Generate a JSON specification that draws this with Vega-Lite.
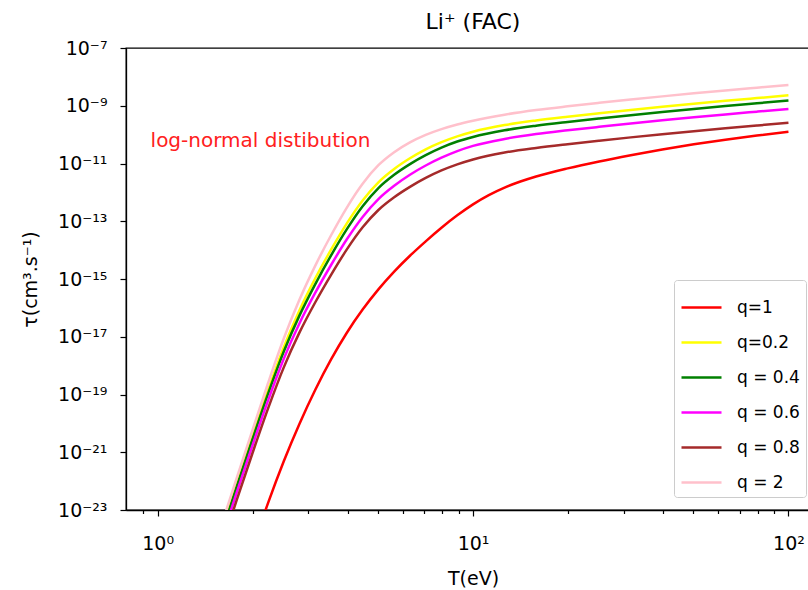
{
  "$schema": "https://vega.github.io/schema/vega-lite/v6.json",
  "width": 694,
  "height": 462,
  "autosize": {"type": "none"},
  "padding": {"left": 126, "top": 48, "right": 0, "bottom": 80},
  "background": "white",
  "title": {"text": "Li⁺ (FAC)", "font": "DejaVu Sans", "fontSize": 22, "fontWeight": "normal", "offset": 5, "anchor": "middle", "color": "black"},
  "config": {
    "view": {"stroke": "black", "strokeWidth": 1.3},
    "axis": {"domainColor": "black", "tickColor": "black", "labelColor": "black", "titleColor": "black", "labelFont": "DejaVu Sans", "titleFont": "DejaVu Sans", "labelFontSize": 19, "titleFontSize": 19, "titleFontWeight": "normal", "grid": false, "domainWidth": 1.3, "tickWidth": 1.2}
  },
  "layer": [
    {
      "data": {"values": [
        {"q":"q=1","T":1.995,"tau":4.37e-25},{"q":"q=1","T":2.239,"tau":1.738e-23},{"q":"q=1","T":2.512,"tau":4.9e-22},{"q":"q=1","T":2.818,"tau":9.77e-21},{"q":"q=1","T":3.162,"tau":1.462e-19},{"q":"q=1","T":3.548,"tau":1.641e-18},{"q":"q=1","T":3.981,"tau":1.38e-17},{"q":"q=1","T":4.467,"tau":8.71e-17},{"q":"q=1","T":5.012,"tau":4.365e-16},{"q":"q=1","T":5.623,"tau":1.8e-15},{"q":"q=1","T":6.31,"tau":6.383e-15},{"q":"q=1","T":7.079,"tau":2.018e-14},{"q":"q=1","T":7.943,"tau":5.957e-14},{"q":"q=1","T":8.913,"tau":1.603e-13},{"q":"q=1","T":10,"tau":3.846e-13},{"q":"q=1","T":11.22,"tau":8.035e-13},{"q":"q=1","T":12.59,"tau":1.462e-12},{"q":"q=1","T":14.13,"tau":2.371e-12},{"q":"q=1","T":15.85,"tau":3.548e-12},{"q":"q=1","T":19.95,"tau":6.761e-12},{"q":"q=1","T":25.12,"tau":1.175e-11},{"q":"q=1","T":31.62,"tau":1.928e-11},{"q":"q=1","T":39.81,"tau":3.055e-11},{"q":"q=1","T":50.12,"tau":4.624e-11},{"q":"q=1","T":63.1,"tau":6.683e-11},{"q":"q=1","T":79.43,"tau":9.333e-11},{"q":"q=1","T":100,"tau":1.259e-10},

        {"q":"q=0.2","T":1.585,"tau":1.585e-24},{"q":"q=0.2","T":1.778,"tau":7.499e-23},{"q":"q=0.2","T":1.995,"tau":3.388e-21},{"q":"q=0.2","T":2.239,"tau":1.38e-19},{"q":"q=0.2","T":2.512,"tau":4.365e-18},{"q":"q=0.2","T":2.818,"tau":8.318e-17},{"q":"q=0.2","T":3.162,"tau":1.059e-15},{"q":"q=0.2","T":3.548,"tau":1.035e-14},{"q":"q=0.2","T":3.981,"tau":8.414e-14},{"q":"q=0.2","T":4.467,"tau":5.248e-13},{"q":"q=0.2","T":5.012,"tau":2.239e-12},{"q":"q=0.2","T":5.623,"tau":6.457e-12},{"q":"q=0.2","T":6.31,"tau":1.514e-11},{"q":"q=0.2","T":7.079,"tau":3.09e-11},{"q":"q=0.2","T":7.943,"tau":5.495e-11},{"q":"q=0.2","T":8.913,"tau":8.71e-11},{"q":"q=0.2","T":10,"tau":1.259e-10},{"q":"q=0.2","T":12.59,"tau":2.138e-10},{"q":"q=0.2","T":15.85,"tau":3.09e-10},{"q":"q=0.2","T":19.95,"tau":4.169e-10},{"q":"q=0.2","T":25.12,"tau":5.495e-10},{"q":"q=0.2","T":31.62,"tau":7.161e-10},{"q":"q=0.2","T":39.81,"tau":9.226e-10},{"q":"q=0.2","T":50.12,"tau":1.175e-9},{"q":"q=0.2","T":63.1,"tau":1.479e-9},{"q":"q=0.2","T":79.43,"tau":1.841e-9},{"q":"q=0.2","T":100,"tau":2.291e-9},

        {"q":"q = 0.4","T":1.585,"tau":1.259e-24},{"q":"q = 0.4","T":1.778,"tau":5.957e-23},{"q":"q = 0.4","T":1.995,"tau":2.63e-21},{"q":"q = 0.4","T":2.239,"tau":1.047e-19},{"q":"q = 0.4","T":2.512,"tau":3.09e-18},{"q":"q = 0.4","T":2.818,"tau":5.495e-17},{"q":"q = 0.4","T":3.162,"tau":6.683e-16},{"q":"q = 0.4","T":3.548,"tau":6.531e-15},{"q":"q = 0.4","T":3.981,"tau":5.309e-14},{"q":"q = 0.4","T":4.467,"tau":3.311e-13},{"q":"q = 0.4","T":5.012,"tau":1.413e-12},{"q":"q = 0.4","T":5.623,"tau":4.074e-12},{"q":"q = 0.4","T":6.31,"tau":9.55e-12},{"q":"q = 0.4","T":7.079,"tau":1.95e-11},{"q":"q = 0.4","T":7.943,"tau":3.548e-11},{"q":"q = 0.4","T":8.913,"tau":5.754e-11},{"q":"q = 0.4","T":10,"tau":8.318e-11},{"q":"q = 0.4","T":12.59,"tau":1.413e-10},{"q":"q = 0.4","T":15.85,"tau":2.042e-10},{"q":"q = 0.4","T":19.95,"tau":2.754e-10},{"q":"q = 0.4","T":25.12,"tau":3.631e-10},{"q":"q = 0.4","T":31.62,"tau":4.732e-10},{"q":"q = 0.4","T":39.81,"tau":6.095e-10},{"q":"q = 0.4","T":50.12,"tau":7.762e-10},{"q":"q = 0.4","T":63.1,"tau":9.772e-10},{"q":"q = 0.4","T":79.43,"tau":1.216e-9},{"q":"q = 0.4","T":100,"tau":1.514e-9},

        {"q":"q = 0.6","T":1.585,"tau":7.943e-25},{"q":"q = 0.6","T":1.778,"tau":3.758e-23},{"q":"q = 0.6","T":1.995,"tau":1.622e-21},{"q":"q = 0.6","T":2.239,"tau":6.166e-20},{"q":"q = 0.6","T":2.512,"tau":1.738e-18},{"q":"q = 0.6","T":2.818,"tau":2.951e-17},{"q":"q = 0.6","T":3.162,"tau":3.35e-16},{"q":"q = 0.6","T":3.548,"tau":3.055e-15},{"q":"q = 0.6","T":3.981,"tau":2.371e-14},{"q":"q = 0.6","T":4.467,"tau":1.413e-13},{"q":"q = 0.6","T":5.012,"tau":5.888e-13},{"q":"q = 0.6","T":5.623,"tau":1.698e-12},{"q":"q = 0.6","T":6.31,"tau":4.074e-12},{"q":"q = 0.6","T":7.079,"tau":8.511e-12},{"q":"q = 0.6","T":7.943,"tau":1.585e-11},{"q":"q = 0.6","T":8.913,"tau":2.692e-11},{"q":"q = 0.6","T":10,"tau":4.074e-11},{"q":"q = 0.6","T":12.59,"tau":7.079e-11},{"q":"q = 0.6","T":15.85,"tau":1.047e-10},{"q":"q = 0.6","T":19.95,"tau":1.413e-10},{"q":"q = 0.6","T":25.12,"tau":1.862e-10},{"q":"q = 0.6","T":31.62,"tau":2.427e-10},{"q":"q = 0.6","T":39.81,"tau":3.126e-10},{"q":"q = 0.6","T":50.12,"tau":3.981e-10},{"q":"q = 0.6","T":63.1,"tau":5.012e-10},{"q":"q = 0.6","T":79.43,"tau":6.237e-10},{"q":"q = 0.6","T":100,"tau":7.762e-10},

        {"q":"q = 0.8","T":1.585,"tau":4.467e-25},{"q":"q = 0.8","T":1.778,"tau":2.065e-23},{"q":"q = 0.8","T":1.995,"tau":8.71e-22},{"q":"q = 0.8","T":2.239,"tau":3.236e-20},{"q":"q = 0.8","T":2.512,"tau":8.71e-19},{"q":"q = 0.8","T":2.818,"tau":1.413e-17},{"q":"q = 0.8","T":3.162,"tau":1.567e-16},{"q":"q = 0.8","T":3.548,"tau":1.396e-15},{"q":"q = 0.8","T":3.981,"tau":1.059e-14},{"q":"q = 0.8","T":4.467,"tau":6.166e-14},{"q":"q = 0.8","T":5.012,"tau":2.455e-13},{"q":"q = 0.8","T":5.623,"tau":6.761e-13},{"q":"q = 0.8","T":6.31,"tau":1.549e-12},{"q":"q = 0.8","T":7.079,"tau":3.162e-12},{"q":"q = 0.8","T":7.943,"tau":5.754e-12},{"q":"q = 0.8","T":8.913,"tau":9.333e-12},{"q":"q = 0.8","T":10,"tau":1.38e-11},{"q":"q = 0.8","T":12.59,"tau":2.399e-11},{"q":"q = 0.8","T":15.85,"tau":3.467e-11},{"q":"q = 0.8","T":19.95,"tau":4.677e-11},{"q":"q = 0.8","T":25.12,"tau":6.166e-11},{"q":"q = 0.8","T":31.62,"tau":8.035e-11},{"q":"q = 0.8","T":39.81,"tau":1.035e-10},{"q":"q = 0.8","T":50.12,"tau":1.318e-10},{"q":"q = 0.8","T":63.1,"tau":1.66e-10},{"q":"q = 0.8","T":79.43,"tau":2.065e-10},{"q":"q = 0.8","T":100,"tau":2.57e-10},

        {"q":"q = 2","T":1.585,"tau":2.512e-24},{"q":"q = 2","T":1.778,"tau":1.189e-22},{"q":"q = 2","T":1.995,"tau":5.495e-21},{"q":"q = 2","T":2.239,"tau":2.455e-19},{"q":"q = 2","T":2.512,"tau":8.71e-18},{"q":"q = 2","T":2.818,"tau":1.95e-16},{"q":"q = 2","T":3.162,"tau":2.917e-15},{"q":"q = 2","T":3.548,"tau":3.273e-14},{"q":"q = 2","T":3.981,"tau":2.985e-13},{"q":"q = 2","T":4.467,"tau":1.995e-12},{"q":"q = 2","T":5.012,"tau":8.71e-12},{"q":"q = 2","T":5.623,"tau":2.455e-11},{"q":"q = 2","T":6.31,"tau":5.37e-11},{"q":"q = 2","T":7.079,"tau":9.772e-11},{"q":"q = 2","T":7.943,"tau":1.549e-10},{"q":"q = 2","T":8.913,"tau":2.239e-10},{"q":"q = 2","T":10,"tau":3.02e-10},{"q":"q = 2","T":12.59,"tau":4.898e-10},{"q":"q = 2","T":15.85,"tau":7.079e-10},{"q":"q = 2","T":19.95,"tau":9.55e-10},{"q":"q = 2","T":25.12,"tau":1.259e-9},{"q":"q = 2","T":31.62,"tau":1.641e-9},{"q":"q = 2","T":39.81,"tau":2.113e-9},{"q":"q = 2","T":50.12,"tau":2.692e-9},{"q":"q = 2","T":63.1,"tau":3.388e-9},{"q":"q = 2","T":79.43,"tau":4.217e-9},{"q":"q = 2","T":100,"tau":5.248e-9}
      ]},
      "mark": {"type": "line", "clip": true, "strokeWidth": 2.5, "interpolate": "monotone"},
      "encoding": {
        "x": {"field": "T", "type": "quantitative",
          "scale": {"type": "log", "domain": [0.794, 125.9], "nice": false},
          "axis": {"title": "T(eV)", "values": [0.9,1,2,3,4,5,6,7,8,9,10,20,30,40,50,60,70,80,90,100],
            "labelExpr": "datum.value == 1 ? '10⁰' : datum.value == 10 ? '10¹' : datum.value == 100 ? '10²' : ''",
            "tickSize": {"condition": {"test": "datum.value == 1 || datum.value == 10 || datum.value == 100", "value": 6}, "value": 3.5},
            "labelOverlap": false, "labelFlush": false, "labelPadding": 18, "titlePadding": 16}},
        "y": {"field": "tau", "type": "quantitative",
          "scale": {"type": "log", "domain": [1e-23, 1e-7], "nice": false},
          "axis": {"title": "τ(cm³.s⁻¹)", "values": [1e-23,1e-21,1e-19,1e-17,1e-15,1e-13,1e-11,1e-9,1e-7],
            "labelExpr": "'10⁻' + (abs(round(log(datum.value)/LN10)) >= 10 ? substring('⁰¹²³⁴⁵⁶⁷⁸⁹', floor(abs(round(log(datum.value)/LN10))/10), floor(abs(round(log(datum.value)/LN10))/10)+1) : '') + substring('⁰¹²³⁴⁵⁶⁷⁸⁹', abs(round(log(datum.value)/LN10)) % 10, abs(round(log(datum.value)/LN10)) % 10 + 1)",
            "tickSize": 6, "labelOverlap": false, "labelFlush": false, "labelPadding": 13, "titlePadding": 17}},
        "color": {"field": "q", "type": "nominal",
          "scale": {"domain": ["q=1","q=0.2","q = 0.4","q = 0.6","q = 0.8","q = 2"], "range": ["#ff0000","#ffff00","#008000","#ff00ff","#a52a2a","#ffc0cb"]},
          "legend": {"title": null, "orient": "none", "legendX": 548, "legendY": 232, "symbolType": "stroke", "symbolSize": 1600, "symbolStrokeWidth": 2.5, "labelFont": "DejaVu Sans", "labelFontSize": 17, "labelColor": "black", "labelOffset": 14, "rowPadding": 5, "padding": 6, "strokeColor": "#cccccc", "fillColor": "white", "cornerRadius": 3}}
      }
    },
    {
      "data": {"values": [{"T": 0.95, "tau": 6e-11, "label": "log-normal distibution"}]},
      "mark": {"type": "text", "align": "left", "baseline": "middle", "color": "#ff2020", "fontSize": 20, "font": "DejaVu Sans"},
      "encoding": {
        "x": {"field": "T", "type": "quantitative", "title": "T(eV)"},
        "y": {"field": "tau", "type": "quantitative", "title": "τ(cm³.s⁻¹)"},
        "text": {"field": "label"}
      }
    }
  ]
}
